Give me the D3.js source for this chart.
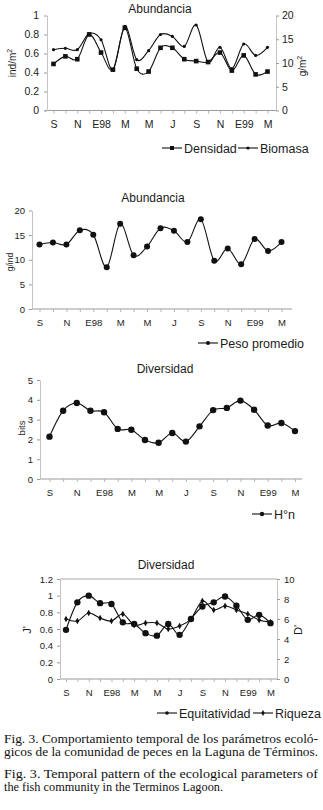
<!DOCTYPE html>
<html><head><meta charset="utf-8">
<script src="https://cdn.jsdelivr.net/npm/d3@7"></script>
<style>
body{margin:0;background:#fff;}
svg{display:block;}
text{font-family:"Liberation Sans",Arial,sans-serif;fill:#1c1c1c;}
text.cap{font-family:"Liberation Serif","Times New Roman",Times,Tinos,"Noto Serif",serif;font-size:12.5px;fill:#111;}
</style></head><body>
<svg id="c" width="323" height="810"></svg>
<script>
// ---- data ----
const months = ["S","O","N","D","E98","F","M","A","M","J","J","A","S","O","N","D","E99","F","M"];
const tickLabels = ["S","","N","","E98","","M","","M","","J","","S","","N","","E99","","M"];
const densidad = [0.49,0.57,0.54,0.80,0.61,0.43,0.87,0.44,0.41,0.66,0.66,0.54,0.52,0.51,0.61,0.42,0.58,0.38,0.41];
const biomasa = [12.8,13.1,12.8,16.2,14.9,8.6,17.7,10.7,12.6,16.0,15.6,13.5,18.0,10.2,13.3,8.8,14.0,11.6,13.3];
const pesoPromedio = [13.1,13.5,13.1,16.0,15.1,8.5,17.3,10.9,12.7,16.4,15.9,13.6,18.2,9.8,12.3,9.1,14.2,11.8,13.6];
const hn = [2.14,3.45,3.84,3.45,3.37,2.53,2.49,1.97,1.83,2.32,1.89,2.66,3.48,3.59,3.96,3.50,2.70,2.83,2.42];
const equitatividad = [0.59,0.92,1.00,0.91,0.90,0.68,0.66,0.55,0.52,0.66,0.53,0.72,0.87,0.92,0.99,0.88,0.71,0.77,0.67];
const riqueza = [6.0,5.8,6.6,6.1,5.8,6.5,5.4,5.6,5.6,5.0,5.3,6.0,7.8,6.9,7.3,6.9,6.5,5.9,5.7];
const ticksDensidad = [0,0.2,0.4,0.6,0.8,1];
const ticksBiomasa = [0,5,10,15,20];
const ticksPeso = [0,5,10,15,20];
const ticksHn = [0,1,2,3,4,5];
const ticksJ = [0,0.2,0.4,0.6,0.8,1,1.2];
const ticksD = [0,2,4,6,8,10];
const captionLines = [
  "Fig. 3. Comportamiento temporal de los parámetros ecoló-",
  "gicos de la comunidad de peces en la Laguna de Términos.",
  "Fig. 3. Temporal pattern of the ecological parameters of",
  "the fish community in the Terminos Lagoon."
];

// ---- drawing ----
const svg = d3.select("#c");
const idx = d3.range(months.length);
const curve = d3.curveCatmullRom.alpha(0);
const AX = "#9a9a9a";

function marker(sel, type, size){
  if(type==="circle") return sel.append("circle").attr("r", size);
  const sym = type==="square" ? d3.symbolSquare : d3.symbolDiamond;
  return sel.append("path").attr("d", d3.symbol(sym, size*size*4));
}

function panel(o){
  const g = svg.append("g");
  const x = d3.scalePoint().domain(idx).range([o.x0, o.x1]);
  // x axis
  g.append("path").attr("d", d3.line()([[o.axL, o.yb],[o.axR, o.yb]]))
    .attr("stroke", AX).attr("stroke-width",1).attr("fill","none");
  const gx = g.append("g").attr("transform",`translate(0,${o.yb})`)
    .call(d3.axisBottom(x).tickFormat(i=>tickLabels[i]).tickSizeInner(3).tickSizeOuter(0).tickPadding(o.xpad));
  gx.select(".domain").remove();
  gx.selectAll(".tick line").attr("stroke","#b5b5b5");
  gx.selectAll(".tick text").attr("font-size", o.fs).attr("font-family","Liberation Sans, Arial, sans-serif").attr("fill","#1c1c1c");
  // y axes
  o.axes.forEach(a=>{
    const ax = (a.side==="left" ? d3.axisLeft(a.scale) : d3.axisRight(a.scale))
      .tickValues(a.ticks).tickSizeInner(3).tickSizeOuter(0).tickPadding(a.pad)
      .tickFormat(a.fmt || (d=>d));
    const ga = g.append("g").attr("transform",`translate(${a.x},0)`).call(ax);
    ga.select(".domain").attr("stroke","#c4c4c4");
    ga.selectAll(".tick line").attr("stroke", AX);
    ga.selectAll(".tick text").attr("font-size", o.fs).attr("font-family","Liberation Sans, Arial, sans-serif").attr("fill","#1c1c1c");
    const lab = g.append("text").attr("transform",`translate(${a.lx},${a.ly}) rotate(-90)`)
      .attr("text-anchor","middle").attr("font-size", a.lfs||10);
    lab.text(a.label);
    if(a.sup) lab.append("tspan").attr("dy",-4).attr("font-size",7).text(a.sup);
  });
  if(o.topLine){
    const a0 = o.axes[0], yt = a0.scale(a0.ticks[a0.ticks.length-1]);
    g.append("path").attr("d", d3.line()([[o.axL, yt],[o.axR, yt]]))
      .attr("stroke","#aaa").attr("fill","none");
  }
  // title
  g.append("text").attr("x",o.tx).attr("y",o.ty).attr("text-anchor","middle").attr("font-size",12).text(o.title);
  // series
  o.series.forEach(s=>{
    const y = s.scale;
    g.append("path").datum(s.values)
      .attr("d", d3.line().x((d,i)=>x(i)).y(d=>y(d)).curve(curve))
      .attr("fill","none").attr("stroke","#111").attr("stroke-width",1.1);
    s.values.forEach((v,i)=>{
      marker(g, s.marker, s.msize).attr("transform", s.marker==="circle"?null:`translate(${x(i)},${y(v)})`)
        .attr("cx", s.marker==="circle"?x(i):null).attr("cy", s.marker==="circle"?y(v):null)
        .attr("fill","#111");
    });
    // legend
    const lg = g.append("g");
    lg.append("path").attr("d", d3.line()([[s.lx, o.ly],[s.lx+20, o.ly]])).attr("stroke","#111").attr("stroke-width",1.1);
    marker(lg, s.marker, s.lsize||Math.min(s.msize,2.2)).attr("transform", s.marker==="circle"?null:`translate(${s.lx+10},${o.ly})`)
      .attr("cx", s.marker==="circle"?s.lx+10:null).attr("cy", s.marker==="circle"?o.ly:null).attr("fill","#111");
    lg.append("text").attr("x", s.lx+22).attr("y", o.ly+4.5).attr("font-size",12.5).text(s.name);
  });
}

// Panel 1
const yDen = d3.scaleLinear().domain([0,1]).range([110.5,15.5]);
const yBio = d3.scaleLinear().domain([0,20]).range([110.5,15.5]);
panel({x0:53.5,x1:267.5,yb:110.5,axL:45,axR:276,xpad:7,fs:10.5,title:"Abundancia",tx:160,ty:13,ly:148,
  axes:[
    {side:"left",scale:yDen,ticks:ticksDensidad,x:47,pad:5,label:"ind/m",sup:"2",lx:16,ly:63,fmt:d3.format("~g")},
    {side:"right",scale:yBio,ticks:ticksBiomasa,x:276,pad:3,label:"g/m",sup:"2",lx:306,ly:66}
  ],
  series:[
    {name:"Densidad",values:densidad,scale:yDen,marker:"square",msize:2.3,lsize:2,lx:162},
    {name:"Biomasa",values:biomasa,scale:yBio,marker:"circle",msize:1.6,lx:238}
  ]});

// Panel 2
const yPeso = d3.scaleLinear().domain([0,20]).range([309,210.5]);
panel({x0:39.5,x1:281.5,yb:309,axL:32,axR:292,xpad:7,fs:9.5,title:"Abundancia",tx:153,ty:202,ly:343,
  axes:[{side:"left",scale:yPeso,ticks:ticksPeso,x:32,pad:4,label:"g/ind",lx:13,ly:262,lfs:8.5}],
  series:[{name:"Peso promedio",values:pesoPromedio,scale:yPeso,marker:"circle",msize:3,lsize:2,lx:198}]});

// Panel 3
const yHn = d3.scaleLinear().domain([0,5]).range([479,380]);
panel({x0:49.5,x1:295,yb:479,axL:40,axR:302,xpad:7,fs:9.5,title:"Diversidad",tx:165,ty:373,ly:514,
  axes:[{side:"left",scale:yHn,ticks:ticksHn,x:40,pad:4,label:"bits",lx:25,ly:428,lfs:9.5}],
  series:[{name:"H°n",values:hn,scale:yHn,marker:"circle",msize:3.2,lsize:2.2,lx:252}]});

// Panel 4
const yJ = d3.scaleLinear().domain([0,1.2]).range([679,579]);
const yD = d3.scaleLinear().domain([0,10]).range([679,579]);
panel({x0:66,x1:270.5,yb:679,axL:60,axR:277,xpad:7,fs:9.5,title:"Diversidad",tx:166,ty:569,ly:713,topLine:true,
  axes:[
    {side:"left",scale:yJ,ticks:ticksJ,x:60,pad:4,label:"J'",lx:31,ly:630,lfs:11,fmt:d3.format("~g")},
    {side:"right",scale:yD,ticks:ticksD,x:277,pad:4,label:"D'",lx:302,ly:630,lfs:11}
  ],
  series:[
    {name:"Equitatividad",values:equitatividad,scale:yJ,marker:"circle",msize:3.2,lsize:1.8,lx:157},
    {name:"Riqueza",values:riqueza,scale:yD,marker:"diamond",msize:1.8,lsize:1.6,lx:253}
  ]});

// caption
const capY = [743,756,778,791];
const capLen = [314,314,314,219];
captionLines.forEach((t,i)=>{
  svg.append("text").attr("class","cap")
    .attr("font-family","Liberation Serif, Times New Roman, Times, serif")
    .attr("x",4).attr("y",capY[i]).text(t)
    .attr("textLength",capLen[i]).attr("lengthAdjust","spacingAndGlyphs");
});
</script>
</body></html>
